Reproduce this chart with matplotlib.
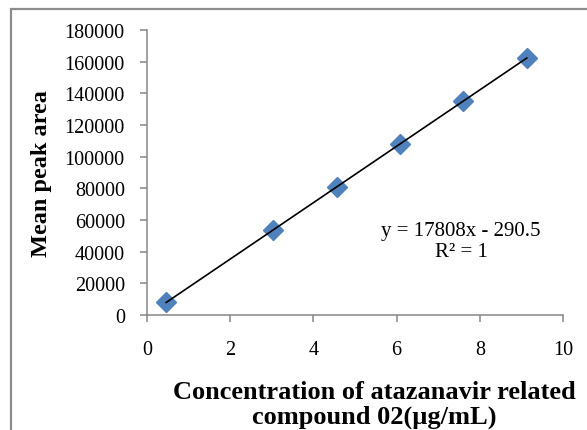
import matplotlib.pyplot as plt
import numpy as np
from matplotlib.patches import Rectangle

# concentration (ug/mL) vs mean peak area
conc = [0.46, 3.04, 4.56, 6.08, 7.6, 9.13]
area = [7900, 54000, 81000, 108000, 135000, 162300]
x_ticks = [0, 2, 4, 6, 8, 10]
y_ticks = [0, 20000, 40000, 60000, 80000, 100000, 120000, 140000, 160000, 180000]

plt.rcParams['font.family'] = ['Liberation Serif', 'DejaVu Serif']

fig = plt.figure(figsize=(5.87, 4.31), dpi=100)
ax = fig.add_axes([147/587, 1-316/431, (563-147)/587, (316-31)/431])

# outer chart frame (cut off at right and bottom)
fig.patches.append(Rectangle((11/587, -0.1), 1.2, 1 - 10/431 + 0.1, transform=fig.transFigure,
                             fill=False, edgecolor='#8c8c8c', lw=1.6))

# linear fit
slope, intercept = 17808, -290.5
xs = np.array([conc[0], conc[-1]])
ax.plot(xs, slope*xs + intercept, color='black', lw=1.2, zorder=3)
ax.plot(conc, area, linestyle='none', marker='D', markersize=10,
        color='#4F81BD', zorder=2)

ax.set_xlim(0, 10)
ax.set_ylim(0, 180000)
ax.set_xticks(x_ticks)
ax.set_yticks(y_ticks)
ax.set_yticklabels([str(v) for v in y_ticks])

for s in ['top', 'right']:
    ax.spines[s].set_visible(False)
for s in ['left', 'bottom']:
    ax.spines[s].set_color('#868686')
    ax.spines[s].set_linewidth(1.1)
ax.tick_params(direction='out', length=5, width=1.1, color='#868686', labelsize=14.5)
ax.tick_params(axis='x', pad=13)
ax.tick_params(axis='y', pad=11)

ax.text(0.755, 0.26, "y = 17808x - 290.5\nR\u00b2 = 1", transform=ax.transAxes,
        ha='center', va='center', fontsize=15, linespacing=1.15)

ax.set_ylabel("Mean peak area", fontsize=17.5, fontweight='bold', labelpad=9)
ax.set_xlabel("Concentration of atazanavir related\ncompound 02(\u00b5g/mL)",
              fontsize=19, fontweight='bold', linespacing=1.1)
ax.xaxis.set_label_coords(0.546, -0.228, transform=ax.transAxes)
ax.xaxis.label.set_va('top')

fig.savefig("out.png", dpi=100)
